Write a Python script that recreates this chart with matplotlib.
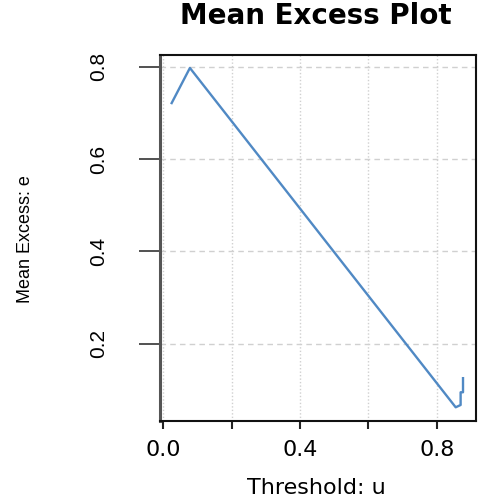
import matplotlib
matplotlib.use("Agg")
import matplotlib.pyplot as plt

# Mean excess curve (threshold u vs mean excess e)
threshold = [0.0246, 0.078, 0.8556, 0.870, 0.870, 0.877, 0.877]
mean_excess = [0.721, 0.797, 0.063, 0.068, 0.0955, 0.0955, 0.126]

x_ticks = [0.0, 0.2, 0.4, 0.6, 0.8]
x_tick_labels = ["0.0", "", "0.4", "", "0.8"]
y_ticks = [0.2, 0.4, 0.6, 0.8]
y_tick_labels = ["0.2", "0.4", "0.6", "0.8"]

NARROW = ["Liberation Sans", "DejaVu Sans"]

fig = plt.figure(figsize=(4.86, 5.0), dpi=100)
ax = fig.add_axes([160 / 486, 1 - 420.7 / 500, 316 / 486, 365.7 / 500])

ax.plot(threshold, mean_excess, color="#5089c4", linewidth=1.7)

ax.set_xlim(-0.0095, 0.915)
ax.set_ylim(0.034, 0.825)

ax.set_xticks(x_ticks)
ax.set_xticklabels(x_tick_labels, fontsize=16, family="DejaVu Sans")
ax.set_yticks(y_ticks)
ax.set_yticklabels(y_tick_labels, fontsize=15, family=NARROW, rotation=90, va="center")

ax.tick_params(axis="x", length=6, width=1.5, pad=8, color="#222222")
ax.tick_params(axis="y", length=15, width=1.2, pad=22, color="#333333")

# grid: dotted verticals, dashed horizontals
for xv in x_ticks:
    ax.axvline(xv, color="#d0d0d0", linestyle=(0, (1, 1.5)), linewidth=1.0, zorder=0)
for yv in y_ticks:
    ax.axhline(yv, color="#d0d0d0", linestyle=(0, (4, 3)), linewidth=1.0, zorder=0)

for side in ["top", "right", "bottom"]:
    ax.spines[side].set_color("#111111")
    ax.spines[side].set_linewidth(1.5)
ax.spines["left"].set_color("#555555")
ax.spines["left"].set_linewidth(2.2)

fig.text(316 / 486, 1 - 16.5 / 500, "Mean Excess Plot", fontsize=20, fontweight="bold",
         ha="center", va="center", family="DejaVu Sans")
fig.text(316 / 486, 1 - 488 / 500, "Threshold: u", fontsize=16,
         ha="center", va="center", family="DejaVu Sans")
fig.text(25 / 486, 1 - 239 / 500, "Mean Excess: e", fontsize=13, rotation=90,
         ha="center", va="center", family=NARROW)

fig.savefig("out.png", dpi=100)
